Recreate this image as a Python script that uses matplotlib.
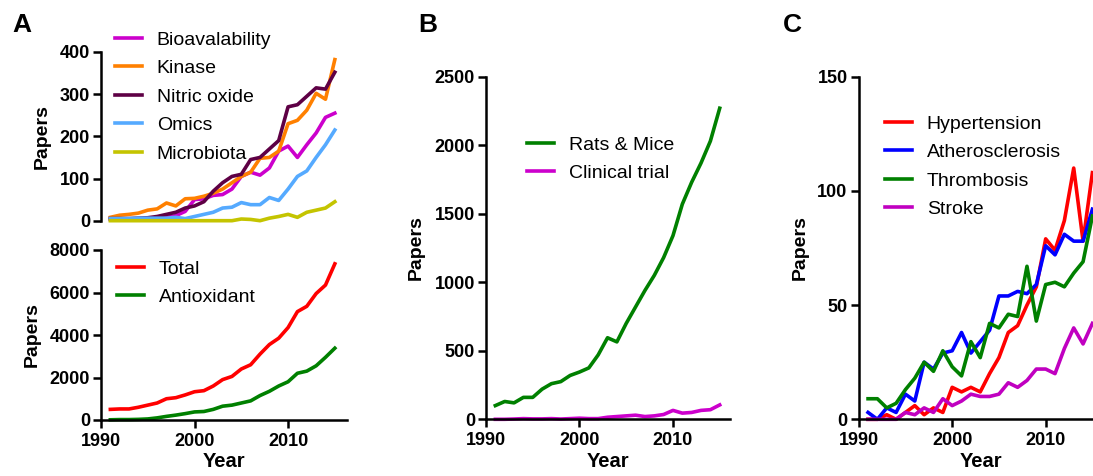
import matplotlib
matplotlib.use("Agg")
import matplotlib.pyplot as plt
import numpy as np

plt.rcParams['font.family'] = ['Liberation Sans', 'DejaVu Sans']

years = np.arange(1991, 2016)

# panel A, top
bioavail = [3, 3, 3, 4, 5, 5, 8, 12, 22, 50, 52, 60, 62, 75, 105, 115, 108, 125, 165, 177, 150, 180, 208, 245, 255]
kinase = [8, 13, 15, 18, 25, 28, 42, 35, 52, 53, 58, 65, 75, 90, 105, 115, 148, 150, 165, 230, 238, 262, 302, 288, 382]
nitric = [5, 5, 5, 6, 7, 10, 15, 20, 30, 35, 45, 70, 90, 105, 110, 145, 150, 170, 190, 270, 275, 295, 315, 312, 352]
omics = [5, 5, 5, 6, 6, 6, 6, 8, 5, 10, 15, 20, 30, 32, 43, 38, 38, 55, 48, 75, 105, 118, 150, 180, 215]
microbiota = [0, 0, 0, 0, 0, 0, 0, 0, 0, 0, 0, 0, 0, 0, 4, 3, 0, 6, 10, 15, 8, 20, 25, 30, 45]

# panel A, bottom
total = [500, 520, 520, 600, 700, 800, 1000, 1050, 1180, 1330, 1380, 1600, 1900, 2050, 2400, 2600, 3100, 3550, 3850, 4350, 5100, 5350, 5950, 6350, 7350]
antiox = [10, 20, 20, 30, 50, 100, 170, 230, 300, 380, 400, 500, 650, 700, 800, 900, 1150, 1350, 1600, 1800, 2200, 2300, 2550, 2950, 3380]

# panel B
rats_mice = [100, 130, 120, 160, 160, 220, 260, 275, 320, 345, 375, 470, 595, 565, 700, 820, 940, 1050, 1180, 1340, 1570, 1730, 1870, 2030, 2270]
clinical = [0, 0, 2, 5, 3, 3, 5, 2, 5, 8, 5, 5, 15, 20, 25, 30, 20, 25, 35, 65, 45, 50, 65, 70, 105]

# panel C
hypertension = [0, 0, 2, 0, 3, 6, 2, 5, 3, 14, 12, 14, 12, 20, 27, 38, 41, 50, 58, 79, 74, 87, 110, 78, 108]
athero = [3, 0, 5, 3, 11, 8, 25, 22, 29, 30, 38, 29, 34, 39, 54, 54, 56, 55, 59, 76, 72, 81, 78, 78, 92]
thrombosis = [9, 9, 5, 7, 13, 18, 25, 21, 30, 23, 19, 34, 27, 42, 40, 46, 45, 67, 43, 59, 60, 58, 64, 69, 89]
stroke = [0, 0, 0, 0, 3, 2, 5, 3, 9, 6, 8, 11, 10, 10, 11, 16, 14, 17, 22, 22, 20, 31, 40, 33, 42]

W, H = 1093, 476
fig = plt.figure(figsize=(W / 100, H / 100), dpi=100)


def px_axes(left, right, top, bottom):
    return fig.add_axes([left / W, 1 - bottom / H, (right - left) / W, (bottom - top) / H])


def style(ax, xaxis=True):
    for s in ['top', 'right']:
        ax.spines[s].set_visible(False)
    ax.spines['left'].set_linewidth(1.8)
    ax.spines['bottom'].set_linewidth(1.8)
    ax.tick_params(width=1.8, length=6, labelsize=13, pad=2)
    for lab in ax.get_xticklabels() + ax.get_yticklabels():
        lab.set_fontweight('bold')
    if not xaxis:
        ax.spines['bottom'].set_visible(False)
        ax.set_xticks([])
    else:
        ax.set_xticks([1990, 2000, 2010])
        ax.tick_params(axis='x', pad=3)
        for lab in ax.get_xticklabels():
            lab.set_fontweight('bold')
        ax.set_xlabel('Year', fontsize=14.5, fontweight='bold', labelpad=2)


def legend(ax, x, y):
    ax.legend(loc='upper left', bbox_to_anchor=(x / W, 1 - y / H), bbox_transform=fig.transFigure,
              frameon=False, fontsize=14, handlelength=1.4, handletextpad=0.75,
              labelspacing=0.56, borderpad=0, borderaxespad=0)


lw = 2.6

# A top
ax1 = px_axes(101, 347, 52, 220.7)
ax1.plot(years, bioavail, color='#CC00CC', lw=lw, label='Bioavalability', clip_on=False)
ax1.plot(years, kinase, color='#FF8000', lw=lw, label='Kinase', clip_on=False)
ax1.plot(years, nitric, color='#5E0045', lw=lw, label='Nitric oxide', clip_on=False)
ax1.plot(years, omics, color='#55AAFF', lw=lw, label='Omics', clip_on=False)
ax1.plot(years, microbiota, color='#C4C400', lw=lw, label='Microbiota', clip_on=False)
ax1.set_xlim(1990, 2016.3)
ax1.set_ylim(0, 400)
ax1.set_yticks([0, 100, 200, 300, 400])
style(ax1, xaxis=False)
ax1.set_ylabel('Papers', fontsize=14, fontweight='bold')
ax1.yaxis.set_label_coords((51 - 101) / 246, 0.5)
legend(ax1, 115, 31)

# A bottom
ax2 = px_axes(101, 347, 250, 420)
ax2.plot(years, total, color='#FF0000', lw=lw, label='Total', clip_on=False)
ax2.plot(years, antiox, color='#008000', lw=lw, label='Antioxidant', clip_on=False)
ax2.set_xlim(1990, 2016.3)
ax2.set_ylim(0, 8000)
ax2.set_yticks([0, 2000, 4000, 6000, 8000])
style(ax2)
ax2.set_ylabel('Papers', fontsize=14, fontweight='bold')
ax2.yaxis.set_label_coords((41 - 101) / 246, 0.5)
legend(ax2, 117, 260)

# B
ax3 = px_axes(486, 730, 76.7, 419.3)
ax3.plot(years, rats_mice, color='#008000', lw=lw, label='Rats & Mice', clip_on=False)
ax3.plot(years, clinical, color='#CC00CC', lw=lw, label='Clinical trial', clip_on=False)
ax3.set_xlim(1990, 2016.1)
ax3.set_ylim(0, 2500)
ax3.set_yticks([0, 500, 1000, 1500, 2000, 2500])
style(ax3)
ax3.set_ylabel('Papers', fontsize=14, fontweight='bold')
ax3.yaxis.set_label_coords((425 - 486) / 244, 0.5)
legend(ax3, 527, 136)

# C
ax4 = px_axes(858.7, 1102.7, 76.7, 419.3)
ax4.plot(years, hypertension, color='#FF0000', lw=lw, label='Hypertension', clip_on=False)
ax4.plot(years, athero, color='#0000FF', lw=lw, label='Atherosclerosis', clip_on=False)
ax4.plot(years, thrombosis, color='#008000', lw=lw, label='Thrombosis', clip_on=False)
ax4.plot(years, stroke, color='#C000C0', lw=lw, label='Stroke', clip_on=False)
ax4.set_xlim(1990, 2016.1)
ax4.set_ylim(0, 150)
ax4.set_yticks([0, 50, 100, 150])
style(ax4)
ax4.set_ylabel('Papers', fontsize=14, fontweight='bold')
ax4.yaxis.set_label_coords((809 - 858.7) / 244, 0.5)
legend(ax4, 885, 115)

for letter, x in [('A', 12), ('B', 418), ('C', 783)]:
    fig.text(x / W, 1 - 13 / H, letter, fontsize=19, fontweight='bold', ha='left', va='top')

fig.savefig('out.png', dpi=100)
